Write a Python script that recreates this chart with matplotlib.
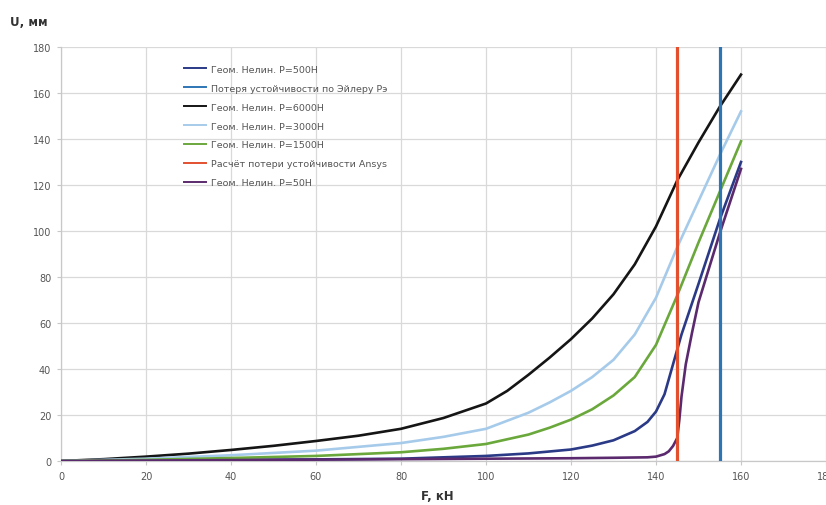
import matplotlib
matplotlib.use("Agg")
import matplotlib.pyplot as plt

# ---- data ----
F_6000 = [0, 10, 20, 30, 40, 50, 60, 70, 80, 90, 100, 105, 110, 115, 120, 125, 130, 135, 140, 145, 150, 155, 160]
U_6000 = [0, 0.8, 1.9, 3.2, 4.8, 6.6, 8.7, 11, 14, 18.7, 25, 30.5, 37.5, 45, 53, 62, 72.5, 85.5, 102, 122, 138.5, 154, 168]

F_3000 = [0, 20, 40, 60, 80, 90, 100, 110, 115, 120, 125, 130, 135, 140, 145, 150, 155, 160]
U_3000 = [0, 1, 2.5, 4.5, 7.8, 10.5, 14, 21, 25.5, 30.5, 36.5, 44, 55, 71, 93, 113, 133, 152]

F_1500 = [0, 20, 40, 60, 80, 90, 100, 110, 115, 120, 125, 130, 135, 140, 145, 150, 155, 160]
U_1500 = [0, 0.5, 1.3, 2.2, 3.8, 5.3, 7.4, 11.5, 14.5, 18, 22.5, 28.5, 36.5, 50.5, 72, 95, 117, 139]

F_500 = [0, 20, 40, 60, 80, 100, 110, 120, 125, 130, 135, 138, 140, 142, 144, 146, 148, 150, 155, 160]
U_500 = [0, 0.3, 0.5, 0.7, 1.0, 2.2, 3.3, 5, 6.7, 9, 13, 17, 21.5, 29, 42, 55, 66, 77, 105, 130]

F_50 = [0, 20, 40, 60, 80, 100, 120, 130, 138, 140, 142, 143, 144, 145, 145.5, 146, 147, 148.5, 150, 152, 155, 160]
U_50 = [0, 0.2, 0.4, 0.6, 0.8, 1.0, 1.2, 1.4, 1.6, 1.9, 3.0, 4.2, 6.5, 10, 18, 28, 42, 56, 69, 81, 99, 127]

F_euler = [155, 155]
U_euler = [0, 180]
F_ansys = [145, 145]
U_ansys = [0, 180]

x_ticks = list(range(0, 181, 20))
y_ticks = list(range(0, 181, 20))

labels = {
    "p500": "Геом. Нелин. P=500Н",
    "euler": "Потеря устойчивости по Эйлеру Pэ",
    "p6000": "Геом. Нелин. P=6000Н",
    "p3000": "Геом. Нелин. P=3000Н",
    "p1500": "Геом. Нелин. P=1500Н",
    "ansys": "Расчёт потери устойчивости Ansys",
    "p50": "Геом. Нелин. P=50Н",
}

plt.rcParams['font.family'] = ['DejaVu Sans']

fig = plt.figure(figsize=(8.26, 5.06), dpi=100)
W, H = 826, 506
ax = fig.add_axes([61 / W, 1 - 462 / H, (826 - 61) / W, (462 - 48) / H])

lw = 1.9
h500, = ax.plot(F_500, U_500, color="#2b3a86", lw=lw, label=labels["p500"], zorder=3)
h6000, = ax.plot(F_6000, U_6000, color="#151515", lw=lw, label=labels["p6000"], zorder=3)
h3000, = ax.plot(F_3000, U_3000, color="#a6cbea", lw=lw, label=labels["p3000"], zorder=3)
h1500, = ax.plot(F_1500, U_1500, color="#6aa83c", lw=lw, label=labels["p1500"], zorder=3)
h50, = ax.plot(F_50, U_50, color="#5b2a6e", lw=lw, label=labels["p50"], zorder=3)
heuler, = ax.plot(F_euler, U_euler, color="#2e75b6", lw=2.3, label=labels["euler"], zorder=4)
hansys, = ax.plot(F_ansys, U_ansys, color="#e2502e", lw=2.3, label=labels["ansys"], zorder=4)

ax.set_xlim(0, 180)
ax.set_ylim(0, 180)
ax.set_xticks(x_ticks)
ax.set_yticks(y_ticks)
ax.grid(True, color="#d9d9d9", lw=0.9, zorder=0)
ax.set_axisbelow(True)
for s in ["top", "right"]:
    ax.spines[s].set_visible(False)
for s in ["left", "bottom"]:
    ax.spines[s].set_color("#c8c8c8")
    ax.spines[s].set_linewidth(0.9)
ax.tick_params(axis="both", colors="#c8c8c8", labelcolor="#555555", labelsize=7, length=3, width=0.8)
ax.tick_params(axis="x", pad=4)
ax.tick_params(axis="y", pad=4)

leg = ax.legend(handles=[h500, heuler, h6000, h3000, h1500, hansys, h50],
                loc="upper left", bbox_to_anchor=((180 - 61) / 765, 1 - (62 - 48) / 414),
                frameon=False, fontsize=6.8, handlelength=2.4, handletextpad=0.5,
                labelspacing=1.05, borderaxespad=0)
for t in leg.get_texts():
    t.set_color("#555555")
for l in leg.get_lines():
    l.set_linewidth(1.4)

fig.text(10 / W, 1 - 22 / H, "U, мм", fontsize=8.5, fontweight="bold", color="#333333", va="center", ha="left")
fig.text(437 / W, 1 - 497 / H, "F, кН", fontsize=8.5, fontweight="bold", color="#333333", va="center", ha="center")

fig.savefig("out.png", dpi=100)
